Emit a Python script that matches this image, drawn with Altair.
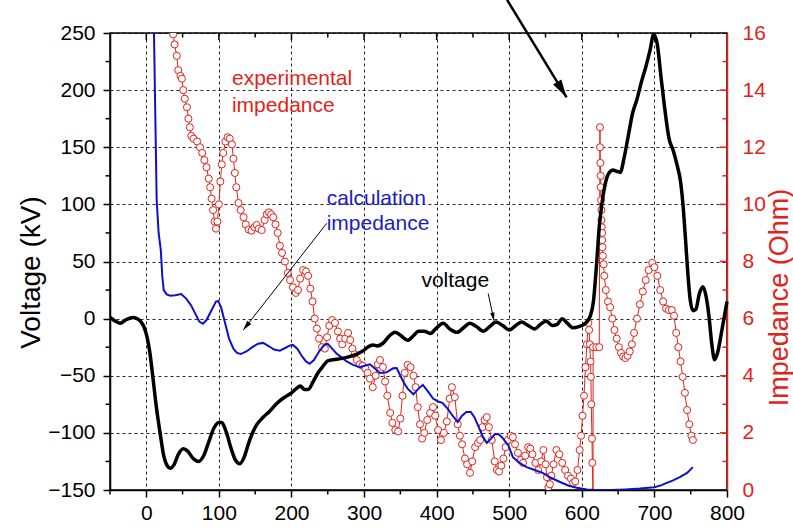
import math
import altair as alt
import pandas as pd

# ---------------- data ----------------
volt_t = [-50, -43, -36, -28, -18, -10, -4, 1, 5, 9, 14, 19, 24, 29, 33, 38, 44, 51, 57, 64, 72, 79, 86, 93,
          100, 104, 110, 117, 123, 129, 135, 141, 147, 152, 160, 170, 180, 190, 200, 207, 212, 218, 223, 230,
          237, 243, 250, 257, 268, 281, 290, 299, 305, 312, 318, 327, 335, 343, 351, 360, 368, 375, 383, 391,
          400, 409, 418, 428, 437, 446, 455, 464, 473, 482, 491, 500, 509, 517, 526, 535, 543, 551, 559, 566,
          573, 580, 588, 596, 603, 608, 612, 616, 620, 624, 628, 633, 638, 643, 648, 653, 658, 664, 670, 676,
          682, 688, 694, 699, 704, 709, 714, 720, 726, 731, 736, 740, 743, 746, 749, 753, 757, 762, 767, 771,
          775, 779, 783, 787, 793, 800]
volt_v = [1, -2, -4, -1, 1, -1, -6, -16, -30, -51, -78, -100, -120, -129, -131, -128, -119, -114, -116, -122,
          -125, -120, -108, -96, -91, -91, -99, -114, -124, -127, -121, -109, -99, -93, -87, -81, -74, -69, -65,
          -61, -59, -62, -62, -55, -47, -42, -37, -36, -35, -33, -31, -28, -25, -23, -24, -21, -15, -12, -15,
          -19, -15, -11, -11, -13, -8, -4, -9, -12, -8, -4, -7, -11, -7, -3, -6, -10, -6, -3, -6, -9, -5, -2,
          -6, -5, 0, -4, -8, -7, -5, -2, 3, 15, 45, 80, 102, 120, 128, 130, 129, 128, 140, 160, 180, 192, 207,
          220, 235, 249, 240, 212, 185, 158, 147, 135, 120, 95, 68, 40, 18, 7, 8, 22, 28, 20, 3, -22, -36, -30,
          -10, 15]

calc_t = [10.6, 12.5, 14.3, 17, 20, 22, 24, 28, 33, 40, 48, 55, 62, 68, 73, 78, 83, 90, 96, 99, 103, 108, 114,
          120, 125, 130, 138, 146, 154, 161, 168, 176, 184, 192, 198, 202, 208, 214, 220, 225, 231, 238, 246,
          250, 256, 262, 268, 276, 285, 294, 302, 308, 315, 322, 331, 340, 345, 350, 355, 360, 368, 375, 381,
          388, 395, 402, 408, 415, 422, 429, 435, 441, 447, 452, 458, 464, 469, 475, 480, 485, 490, 499, 505,
          514, 524, 535, 546, 558, 570, 582, 593, 607, 620, 640, 660, 680, 700, 710, 717, 725, 735, 745, 753]
calc_z = [16, 13, 10.15, 9, 8.4, 7.5, 7.0, 6.85, 6.8, 6.82, 6.86, 6.7, 6.45, 6.15, 5.9, 5.82, 5.95, 6.3, 6.6,
          6.62, 6.4, 5.9, 5.3, 4.95, 4.8, 4.76, 4.85, 5.0, 5.12, 5.15, 5.05, 4.92, 4.88, 4.98, 5.06, 5.08, 4.95,
          4.7, 4.5, 4.42, 4.55, 4.85, 5.1, 5.12, 4.95, 4.78, 4.66, 4.5, 4.38, 4.3, 4.36, 4.4, 4.25, 4.1, 4.12,
          4.26, 4.27, 4.0, 3.75, 3.55, 3.35, 3.55, 3.68, 3.45, 3.2, 3.1, 3.05, 2.85, 2.6, 2.38, 2.6, 2.73, 2.73,
          2.55, 2.2, 1.85, 1.65, 1.8, 1.95, 1.96, 1.85, 1.55, 1.15, 0.95, 0.8, 0.7, 0.6, 0.42, 0.28, 0.15, 0.08,
          0.02, 0.0, 0.0, 0.02, 0.05, 0.1, 0.17, 0.25, 0.33, 0.45, 0.6, 0.8]

exp_t = [37, 39, 42, 44, 47, 49, 51, 53, 56, 58, 60, 62, 65, 70, 74, 77, 80, 83, 86, 88, 90, 92, 94, 96, 98,
         100, 102, 104, 106, 109, 112, 115, 118, 120, 122, 124, 127, 130, 134, 137, 141, 145, 149, 152, 155,
         159, 163, 166, 169, 172, 175, 178, 181, 184, 187, 191, 195, 198, 202, 206, 209, 212, 216, 220, 223,
         226, 229, 232, 235, 238, 242, 246, 249, 252, 256, 260, 264, 267, 270, 274, 278, 281, 284, 287, 290,
         294, 298, 302, 305, 308, 312, 316, 319, 322, 326, 329, 332, 336, 339, 343, 347, 350, 353, 356, 360,
         364, 368, 371, 374, 377, 380, 383, 387, 391, 395, 398, 402, 406, 410, 414, 418, 421, 425, 429, 432,
         435, 439, 442, 446, 449, 453, 457, 460, 463, 466, 469, 472, 476, 480, 483, 486, 489, 492, 495, 498,
         502, 505, 508, 512, 516, 519, 522, 526, 529, 532, 536, 540, 544, 547, 550, 552, 554, 556, 558, 561,
         565, 569, 573, 577, 581, 585, 588, 591, 594, 597, 599, 601, 603, 605, 607, 609, 610, 611, 612, 612.5,
         613, 614, 614.5, 615.5, 615.5, 620, 624, 625, 625, 625.5, 626, 626, 626.5, 627, 627, 627.5, 628, 628,
         628.5, 629, 630, 631, 633, 636, 639, 642, 645, 648, 651, 654, 657, 660, 663, 666, 669, 672, 676, 680,
         684, 688, 692, 697, 700, 704, 708, 712, 716, 720, 724, 727, 730, 733, 736, 739, 742, 745, 748, 751,
         753]
exp_z = [15.95, 15.6, 15.2, 14.7, 14.5, 14.4, 14.0, 13.7, 13.4, 13.0, 12.7, 12.4, 12.3, 12.2, 12.0, 11.8,
         11.55, 11.3, 10.9, 10.6, 10.2, 9.8, 9.4, 9.15, 9.4, 10.0, 10.8, 11.4, 11.8, 12.2, 12.35, 12.3, 12.1,
         11.6, 11.1, 10.6, 10.05, 9.8, 9.55, 9.3, 9.12, 9.08, 9.2, 9.28, 9.15, 9.1, 9.45, 9.65, 9.72, 9.65,
         9.55, 9.3, 9.0, 8.55, 8.3, 8.0, 7.6, 7.35, 7.1, 6.9, 7.0, 7.4, 7.7, 7.65, 7.5, 7.05, 6.6, 6.0, 5.65,
         5.3, 5.0, 4.95, 5.35, 5.75, 5.95, 5.85, 5.55, 5.3, 5.1, 5.3, 5.5, 5.25, 4.95, 4.75, 4.55, 4.4, 4.35,
         4.25, 4.1, 3.9, 3.6, 4.0, 4.4, 4.55, 4.3, 3.8, 3.3, 2.7, 2.35, 2.1, 2.05, 2.5, 3.3, 4.1, 4.38, 4.3,
         4.0, 3.6, 2.9, 2.3, 1.8, 2.0, 2.45, 2.7, 2.9, 2.6, 2.1, 1.75, 2.0, 2.4, 3.2, 3.6, 3.25, 2.3, 1.9, 1.6,
         1.1, 0.9, 0.6, 1.0, 1.5, 1.65, 1.75, 2.2, 2.45, 2.55, 2.2, 1.75, 1.0, 0.7, 0.65, 0.85, 1.1, 1.5, 1.75,
         1.9, 1.85, 1.6, 1.3, 1.05, 0.95, 1.2, 1.5, 1.45, 1.25, 0.95, 0.7, 1.0, 1.4, 0.9, 0.45, 0.1, 0.2, 0.5,
         0.9, 1.4, 1.25, 0.95, 0.7, 0.5, 0.4, 0.25, 0.3, 0.7, 1.4, 1.9, 2.6, 3.3, 4.3, 5.1, 5.85, 5.6, 5.1, 4.5,
         3.96, 3.0, 1.8, 0.95, -0.4, 5.0, 5.0, 5.0, 12.7, 12.0, 11.45, 11.0, 10.6, 10.15, 9.8, 9.45, 9.2, 9.0,
         8.75, 8.5, 8.2, 7.9, 7.5, 7.0, 6.6, 6.4, 6.0, 5.6, 5.3, 5.0, 4.8, 4.67, 4.62, 4.7, 4.85, 5.1, 5.5, 6.0,
         6.5, 6.95, 7.35, 7.7, 7.95, 7.8, 7.5, 7.0, 6.6, 6.35, 6.3, 6.3, 6.1, 5.5, 5.0, 4.5, 3.96, 3.4, 2.8, 2.3,
         1.9, 1.75]

x_major = [0, 100, 200, 300, 400, 500, 600, 700, 800]
x_minor = [-50, 50, 150, 250, 350, 450, 550, 650, 750]
v_major = [-150, -100, -50, 0, 50, 100, 150, 200, 250]
v_minor = [-125, -75, -25, 25, 75, 125, 175, 225]
z_major = [0, 2, 4, 6, 8, 10, 12, 14, 16]
z_minor = [1, 3, 5, 7, 9, 11, 13, 15]

label_text = ["experimental", "impedance", "calculation", "impedance", "voltage"]
label_t = [118, 118, 248.5, 248.5, 379]
label_v = [204.5, 181, 99.5, 77.5, 27.5]
label_color = ["#e2231a", "#e2231a", "#1c1cc4", "#1c1cc4", "black"]

arrow_t0 = [497, 248.5, 471]
arrow_v0 = [279, 83.4, 22]
arrow_t1 = [579, 133.6, 479]
arrow_v1 = [193.7, -10, -1.8]
arrow_w = [2.5, 1.0, 1.0]
arrow_head = [1300, 380, 260]

# ---------------- style ----------------
RED = "#e2231a"
BLUE = "#1010cc"
FONT = "Liberation Sans"
W, H = 617, 457
XMIN, XMAX, VMIN, VMAX = -50, 800, -150, 250

xs = alt.Scale(domain=[XMIN, XMAX], nice=False, zero=False)
vs = alt.Scale(domain=[VMIN, VMAX], nice=False, zero=False)
zs = alt.Scale(domain=[0, 16], nice=False, zero=False)

volt_df = pd.DataFrame({"t": volt_t, "v": volt_v})
calc_df = pd.DataFrame({"t": calc_t, "z": calc_z})
exp_df = pd.DataFrame({"t": exp_t, "z": exp_z, "i": list(range(len(exp_t)))})
lab_df = pd.DataFrame({"txt": label_text, "t": label_t, "v": label_v, "c": label_color})

angles = []
for a, b, c, d in zip(arrow_t0, arrow_v0, arrow_t1, arrow_v1):
    dx = (c - a) * W / (XMAX - XMIN)
    dy = -(d - b) * H / (VMAX - VMIN)
    angles.append(math.degrees(math.atan2(dx, -dy)) % 360)
arr_df = pd.DataFrame({"t0": arrow_t0, "v0": arrow_v0, "t1": arrow_t1, "v1": arrow_v1,
                       "w": arrow_w, "sz": arrow_head, "ang": angles})

x_axis = alt.Axis(orient="bottom", values=x_major, grid=True, gridColor="black", gridDash=[3, 3],
                  gridWidth=1, gridOpacity=0.85, domainColor="black", domainWidth=1.5,
                  tickColor="black", tickWidth=1.5, tickSize=7, labelFont=FONT, labelFontSize=21,
                  labelColor="black", labelPadding=5, labelFlush=False, labelOverlap=False, title=None)
v_axis = alt.Axis(orient="left", values=v_major, grid=True, gridColor="black", gridDash=[3, 3],
                  gridWidth=1, gridOpacity=0.85, domainColor="black", domainWidth=1.5,
                  tickColor="black", tickWidth=1.5, tickSize=7, labelFont=FONT, labelFontSize=21,
                  labelColor="black", labelPadding=8, labelOverlap=False,
                  title="Voltage (kV)", titleFont=FONT, titleFontSize=28, titleFontWeight="normal",
                  titleColor="black", titleAngle=270, titleAlign="center", titleBaseline="bottom",
                  titleX=-65, titleY=239)
z_axis = alt.Axis(orient="right", values=z_major, grid=False, ticks=False, tickSize=0,
                  domainColor=RED, domainWidth=1.5, labelFont=FONT, labelFontSize=21,
                  labelColor=RED, labelPadding=15, labelOverlap=False,
                  title="Impedance (Ohm)", titleFont=FONT, titleFontSize=27, titleFontWeight="normal",
                  titleColor=RED, titleAngle=270, titleAlign="center", titleBaseline="top",
                  titleX=39, titleY=264)


def X(f):
    return alt.X(f, type="quantitative", scale=xs, axis=x_axis)


def V(f):
    return alt.Y(f, type="quantitative", scale=vs, axis=v_axis)


def Z(f):
    return alt.Y(f, type="quantitative", scale=zs, axis=z_axis)


# ---------------- voltage side ----------------
volt_line = alt.Chart(volt_df).mark_line(color="black", strokeWidth=3.5, interpolate="monotone").encode(
    x=X("t"), y=V("v"))
texts = alt.Chart(lab_df).mark_text(align="left", baseline="alphabetic", font=FONT, fontSize=21).encode(
    x=X("t"), y=V("v"), text="txt:N", color=alt.Color("c:N", scale=None))
arrows = alt.Chart(arr_df).mark_rule(color="black").encode(
    x=X("t0"), x2="t1:Q", y=V("v0"), y2="v1:Q",
    strokeWidth=alt.StrokeWidth("w:Q", scale=None))
heads = alt.Chart(arr_df).mark_point(shape="M0,0L0.27,1L-0.27,1Z", filled=True, color="black",
                                     opacity=1, strokeWidth=0).encode(
    x=X("t1"), y=V("v1"),
    size=alt.Size("sz:Q", scale=None), angle=alt.Angle("ang:Q", scale=None))
bottom_minor = alt.Chart(pd.DataFrame({"t": x_minor})).mark_rule(color="black", strokeWidth=1.5).encode(
    x=X("t"), y=alt.value(H), y2=alt.value(H + 4.5))
top_major = alt.Chart(pd.DataFrame({"t": x_major[:-1]})).mark_rule(color="black", strokeWidth=1.5).encode(
    x=X("t"), y=alt.value(0), y2=alt.value(7))
top_minor = alt.Chart(pd.DataFrame({"t": x_minor[1:]})).mark_rule(color="black", strokeWidth=1.5).encode(
    x=X("t"), y=alt.value(0), y2=alt.value(4.5))
left_minor = alt.Chart(pd.DataFrame({"v": v_minor})).mark_rule(color="black", strokeWidth=1.5).encode(
    y=V("v"), x=alt.value(-4.5), x2=alt.value(0))

left = alt.layer(volt_line, texts, arrows, heads, bottom_minor, top_major, top_minor, left_minor)

# ---------------- impedance side ----------------
exp_line = alt.Chart(exp_df).mark_line(color=RED, strokeWidth=1, clip=True).encode(
    x=X("t"), y=Z("z"), order="i:Q")
exp_pts = alt.Chart(exp_df).mark_point(shape="circle", filled=True, fill="white", stroke=RED,
                                       strokeWidth=1, size=50, opacity=1, clip=True).encode(
    x=X("t"), y=Z("z"), order="i:Q")
calc_line = alt.Chart(calc_df).mark_line(color=BLUE, strokeWidth=2, clip=True).encode(
    x=X("t"), y=Z("z"))
right_major = alt.Chart(pd.DataFrame({"z": z_major[1:-1]})).mark_rule(color=RED, strokeWidth=1.5).encode(
    y=Z("z"), x=alt.value(W - 7), x2=alt.value(W))
right_minor = alt.Chart(pd.DataFrame({"z": z_minor})).mark_rule(color=RED, strokeWidth=1.5).encode(
    y=Z("z"), x=alt.value(W - 4.5), x2=alt.value(W))

right = alt.layer(exp_line, exp_pts, calc_line, right_major, right_minor)

chart = alt.layer(right, left).resolve_scale(y="independent").properties(
    width=W, height=H,
    autosize=alt.AutoSizeParams(type="none"),
    padding={"left": 110, "top": 33, "right": 66, "bottom": 39},
    background="white",
).configure_view(stroke="black", strokeWidth=1.5)

chart.save("out.html", embed_options={"renderer": "svg", "actions": False})
